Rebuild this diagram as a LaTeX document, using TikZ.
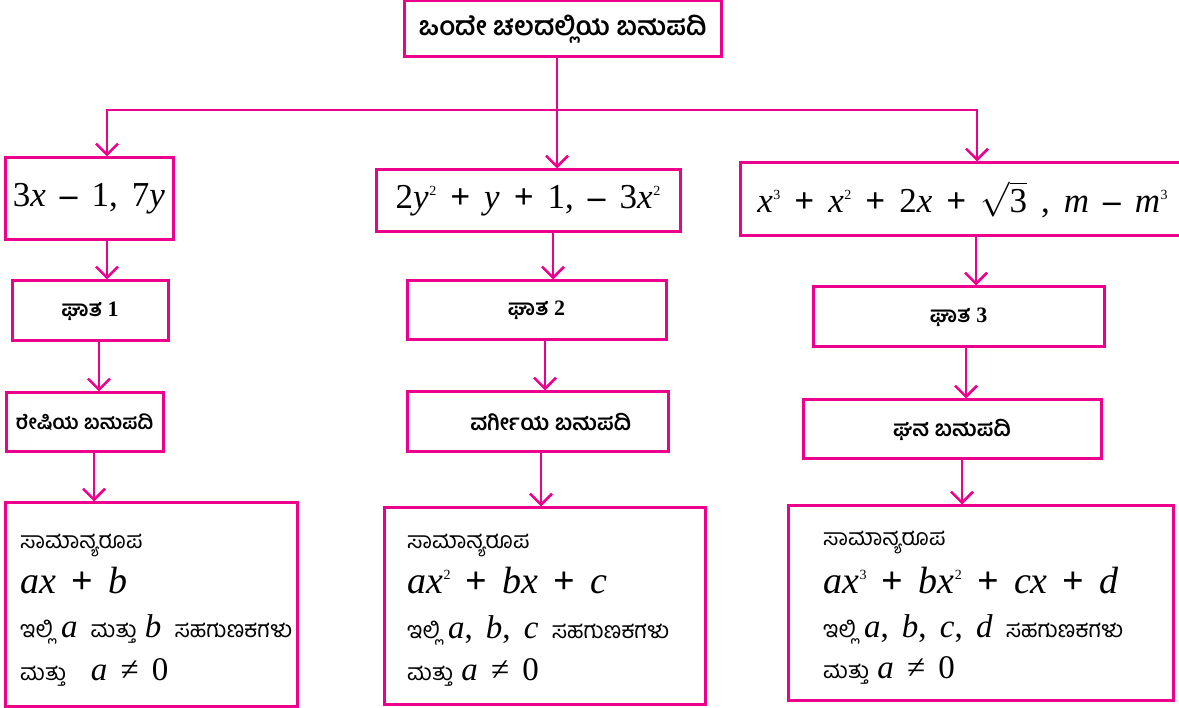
\documentclass[tikz,border=0pt]{standalone}
\usepackage{fix-cm}
\usepackage{fontspec}
\setmainfont{Liberation Serif}
\newfontfamily\kn[Script=Kannada]{Hind Mysuru}
\usetikzlibrary{arrows.meta}
\definecolor{pk}{RGB}{236,0,140}
\newcommand{\mvar}[1]{\textit{#1}}
\newcommand{\knb}[1]{{\kn\bfseries #1}}
\newcommand{\knr}[1]{{\kn\fontsize{23}{26}\selectfont #1}}
\newcommand{\knhead}[1]{\raisebox{0pt}[\height][2pt]{\knr{#1}}}
\newcommand{\gp}{\hspace{0.4em}}
\newcommand{\pl}{\gp\textbf{+}\gp}
\newcommand{\mn}{\gp\textbf{–}\gp}
\newcommand{\sups}[1]{\kern0.5pt\raisebox{0.38em}{\fontsize{14}{14}\selectfont #1}}
\begin{document}
\begin{tikzpicture}[x=1pt,y=-1pt,
  box/.style={draw=pk, line width=3pt, inner sep=0pt, text=black},
  ln/.style={draw=pk, line width=2.5pt},
  arr/.style={draw=pk, line width=2.5pt, -{Straight Barb[length=11pt,width=22pt,line width=2.5pt]}},
  title/.style={font=\kn\bfseries\fontsize{26}{30}\selectfont},
  mth/.style={font=\fontsize{35}{40}\selectfont},
  deg/.style={font=\fontsize{22}{26}\selectfont\bfseries},
  kind/.style={font=\kn\bfseries\fontsize{22}{26}\selectfont},
  tl/.style={anchor=base west, inner sep=0pt, font=\fontsize{33}{34}\selectfont},
  big/.style={anchor=base west, inner sep=0pt, font=\fontsize{38}{40}\selectfont},
]
\useasboundingbox (0,0) rectangle (1179,708);

% top
\node[box, title, minimum width=317, minimum height=56] (top) at (562.5,29) {ಒಂದೇ ಚಲದಲ್ಲಿಯ ಬಹುಪದಿ};

% level b
\node[box, mth, minimum width=168, minimum height=82] (b1) at (89,199) {3\mvar{x}\mn 1,\gp 7\mvar{y}};
\node[box, mth, minimum width=304, minimum height=62] (b2) at (528,201) {2\mvar{y}\sups{2}\pl\mvar{y}\pl 1,\mn 3\mvar{x}\sups{2}};
\node[box, mth, minimum width=445, minimum height=73] (b3) at (962.5,199.5) {\mvar{x}\sups{3}\pl\mvar{x}\sups{2}\pl 2\mvar{x}\pl$\sqrt{\mbox{3}}$\gp,\gp\mvar{m}\mn\mvar{m}\sups{3}};

% level c
\node[box, deg, minimum width=156, minimum height=60] (c1) at (90,311) {\knb{ಘಾತ} 1};
\node[box, deg, minimum width=259, minimum height=59] (c2) at (536.5,310.5) {\knb{ಘಾತ} 2};
\node[box, deg, minimum width=291, minimum height=60] (c3) at (958.5,317) {\knb{ಘಾತ} 3};

% level d
\node[box, kind, minimum width=157, minimum height=59, font=\kn\bfseries\fontsize{20}{24}\selectfont] (d1) at (84.5,422.5) {ರೇಷಿಯ ಬಹುಪದಿ};
\node[box, kind, minimum width=261, minimum height=60] (d2) at (537.5,422) {\hspace{1.2em}ವರ್ಗೀಯ ಬಹುಪದಿ};
\node[box, kind, minimum width=298, minimum height=59] (d3) at (952,429.5) {ಘನ ಬಹುಪದಿ};

% level e
\node[box, minimum width=292, minimum height=203] (e1) at (151,604.5) {};
\node[box, minimum width=321, minimum height=196] (e2) at (544.5,606) {};
\node[box, minimum width=385, minimum height=194] (e3) at (980.5,603) {};

\node[tl] (e1a) at (20,548) {\knhead{ಸಾಮಾನ್ಯರೂಪ}};
\node[big] (e1b) at (20,594) {\mvar{ax}\pl\mvar{b}};
\node[tl] (e1c) at (20,637) {\knr{ಇಲ್ಲಿ} \mvar{a}\gp\knr{ಮತ್ತು} \mvar{b}\gp\knr{ಸಹಗುಣಕಗಳು}};
\node[tl] (e1d) at (20,680) {\knr{ಮತ್ತು}\hspace{0.75em}\mvar{a}\gp≠\gp0};

\node[tl] (e2a) at (407,549) {\knhead{ಸಾಮಾನ್ಯರೂಪ}};
\node[big] (e2b) at (407,594) {\mvar{ax}\sups{2}\pl\mvar{bx}\pl\mvar{c}};
\node[tl] (e2c) at (407,638) {\knr{ಇಲ್ಲಿ} \mvar{a},\gp\mvar{b},\gp\mvar{c}\gp\knr{ಸಹಗುಣಕಗಳು}};
\node[tl] (e2d) at (407,680) {\knr{ಮತ್ತು} \mvar{a}\gp≠\gp0};

\node[tl] (e3a) at (823,546) {\knhead{ಸಾಮಾನ್ಯರೂಪ}};
\node[big] (e3b) at (823,594) {\mvar{ax}\sups{3}\pl\mvar{bx}\sups{2}\pl\mvar{cx}\pl\mvar{d}};
\node[tl] (e3c) at (823,637) {\knr{ಇಲ್ಲಿ} \mvar{a},\gp\mvar{b},\gp\mvar{c},\gp\mvar{d}\gp\knr{ಸಹಗುಣಕಗಳು}};
\node[tl] (e3d) at (823,678) {\knr{ಮತ್ತು} \mvar{a}\gp≠\gp0};

% connectors
\coordinate (hub) at (557,110);
\coordinate (hl) at (107,110);
\coordinate (hr) at (977,110);
\draw[arr] (top.south -| hub) -- (hub |- b2.north);
\draw[arr] (hub) -- (hl) -- (hl |- b1.north);
\draw[arr] (hub) -- (hr) -- (hr |- b3.north);

\draw[arr] ([xshift=18pt]b1.south) -- ([xshift=18pt]b1.south |- c1.north);
\draw[arr] ([xshift=25pt]b2.south) -- ([xshift=25pt]b2.south |- c2.north);
\draw[arr] ([xshift=13.5pt]b3.south) -- ([xshift=13.5pt]b3.south |- c3.north);

\draw[arr] ([xshift=9pt]c1.south) -- ([xshift=9pt]c1.south |- d1.north);
\draw[arr] ([xshift=8.5pt]c2.south) -- ([xshift=8.5pt]c2.south |- d2.north);
\draw[arr] ([xshift=7.5pt]c3.south) -- ([xshift=7.5pt]c3.south |- d3.north);

\draw[arr] ([xshift=9.5pt]d1.south) -- ([xshift=9.5pt]d1.south |- e1.north);
\draw[arr] ([xshift=3.5pt]d2.south) -- ([xshift=3.5pt]d2.south |- e2.north);
\draw[arr] ([xshift=10pt]d3.south) -- ([xshift=10pt]d3.south |- e3.north);
\end{tikzpicture}
\end{document}
